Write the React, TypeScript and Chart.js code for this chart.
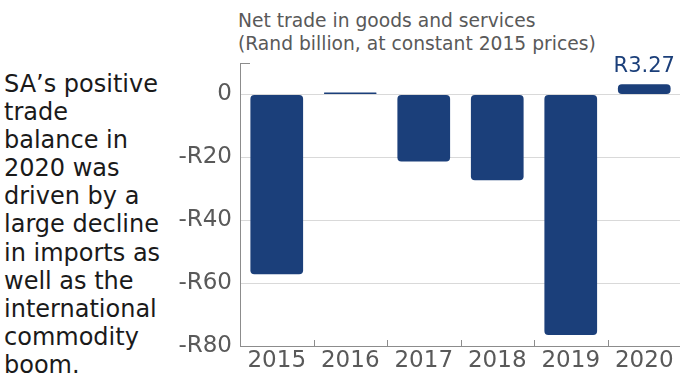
import React, { useEffect, useRef } from "react";
import { Chart, registerables } from "chart.js";

Chart.register(...registerables);

const categories = ["2015", "2016", "2017", "2018", "2019", "2020"];
const netTrade = [-57.2, 0.6, -21.3, -27.3, -76.5, 3.27];
const labelledIndex = 5;
const labelText = "R3.27";
const tickValues = [0, -20, -40, -60, -80];
const titleLines = ["Net trade in goods and services", "(Rand billion, at constant 2015 prices)"];
const sideLines = [
  "SA\u2019s positive",
  "trade",
  "balance in",
  "2020 was",
  "driven by a",
  "large decline",
  "in imports as",
  "well as the",
  "international",
  "commodity",
  "boom.",
];

const BAR = "#1b3f7a";
const AXIS = "#8c8c8c";
const GRID = "#d9d9d9";
const TEXT = "#595959";
const FONT = "'DejaVu Sans', Verdana, sans-serif";

const decorPlugin = {
  id: "decor",
  afterDatasetsDraw(chart: any) {
    const { ctx, chartArea, scales } = chart;
    const x = scales.x;
    const y = scales.y;
    ctx.save();
    ctx.strokeStyle = AXIS;
    ctx.lineWidth = 1;
    for (let i = 1; i < categories.length; i++) {
      const px = Math.round((x.getPixelForValue(i - 1) + x.getPixelForValue(i)) / 2) + 0.5;
      ctx.beginPath();
      ctx.moveTo(px, chartArea.bottom);
      ctx.lineTo(px, chartArea.bottom - 6);
      ctx.stroke();
    }
    const topY = Math.round(y.getPixelForValue(y.max)) + 0.5;
    ctx.beginPath();
    ctx.moveTo(chartArea.left, topY);
    ctx.lineTo(chartArea.left + 10, topY);
    ctx.stroke();
    const meta = chart.getDatasetMeta(0);
    const bar = meta.data[labelledIndex];
    if (bar) {
      ctx.fillStyle = BAR;
      ctx.font = `21px ${FONT}`;
      ctx.textAlign = "center";
      ctx.textBaseline = "alphabetic";
      ctx.fillText(labelText, bar.x, bar.y - 12);
    }
    ctx.restore();
  },
};

function ChartView() {
  const ref = useRef<HTMLCanvasElement | null>(null);
  useEffect(() => {
    if (!ref.current) return;
    const chart = new Chart(ref.current, {
      type: "bar",
      data: {
        labels: categories,
        datasets: [
          {
            data: netTrade,
            backgroundColor: BAR,
            borderRadius: 4,
            borderSkipped: false,
            categoryPercentage: 1,
            barPercentage: 0.717,
          },
        ],
      },
      options: {
        animation: false,
        responsive: false,
        maintainAspectRatio: false,
        layout: { padding: { top: 63, right: 0, bottom: 0, left: 0 } },
        plugins: {
          legend: { display: false },
          tooltip: { enabled: false },
          title: { display: false },
        },
        scales: {
          x: {
            grid: { display: false, drawTicks: false },
            border: { display: true, color: AXIS, width: 1 },
            ticks: {
              color: TEXT,
              font: { family: FONT, size: 23 },
              padding: 1,
              maxRotation: 0,
            },
            afterFit(scale: any) {
              scale.height = 34;
            },
          },
          y: {
            min: -80,
            max: 10,
            afterBuildTicks(scale: any) {
              scale.ticks = tickValues.map((v) => ({ value: v }));
            },
            grid: {
              color: (c: any) => (c.tick && c.tick.value === -80 ? "rgba(0,0,0,0)" : GRID),
              drawTicks: false,
            },
            border: { display: true, color: AXIS, width: 1 },
            ticks: {
              color: TEXT,
              font: { family: FONT, size: 23 },
              padding: 8,
              callback: (v: any) => (Number(v) === 0 ? "0" : `-R${Math.abs(Number(v))}`),
            },
            afterFit(scale: any) {
              scale.width = 70;
            },
          },
        },
      },
      plugins: [decorPlugin],
    });
    return () => chart.destroy();
  }, []);
  return (
    <canvas
      ref={ref}
      width={511}
      height={380}
      style={{ position: "absolute", left: 170, top: 0, width: 511, height: 380 }}
    />
  );
}

export default function App() {
  return (
    <div
      style={{
        position: "fixed",
        left: 0,
        top: 0,
        width: 680,
        height: 380,
        overflow: "hidden",
        background: "#ffffff",
      }}
    >
      <div
        style={{
          position: "absolute",
          left: 238,
          top: 9,
          fontFamily: FONT,
          fontSize: 18.7,
          lineHeight: "23px",
          color: TEXT,
          whiteSpace: "nowrap",
        }}
      >
        {titleLines.map((l, i) => (
          <div key={i}>{l}</div>
        ))}
      </div>
      <div
        style={{
          position: "absolute",
          left: 4,
          top: 70,
          fontFamily: FONT,
          fontSize: 24,
          lineHeight: "28.1px",
          color: "#1a1a1a",
          whiteSpace: "nowrap",
        }}
      >
        {sideLines.map((l, i) => (
          <div key={i}>{l}</div>
        ))}
      </div>
      <ChartView />
    </div>
  );
}
